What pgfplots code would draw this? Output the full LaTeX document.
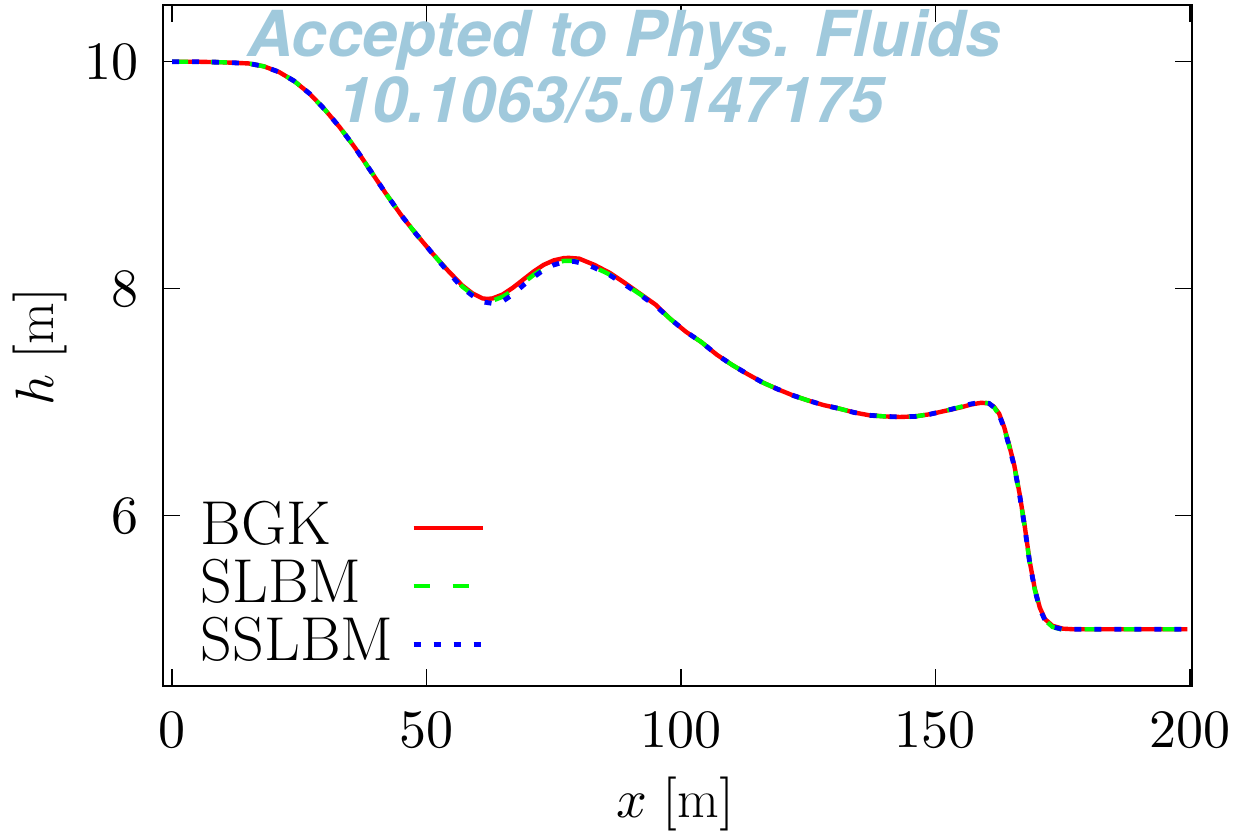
\RequirePackage{fix-cm}
\documentclass[border=0pt]{standalone}
\usepackage{fontspec}
\usepackage{pgfplots}
\usepackage{pgfplotstable}
\pgfplotsset{compat=1.18}
\DeclareFontShape{OT1}{cmr}{m}{n}{<->cmr10}{}
\DeclareFontShape{OML}{cmm}{m}{it}{<->cmmi10}{}
\newfontfamily\wmfont{TeX Gyre Heros}
\definecolor{wmblue}{RGB}{160,201,220}
\definecolor{lgreen}{RGB}{0,255,0}

\pgfplotstableread{
x h
0 10.000
5 10.000
10 9.995
15 9.985
18 9.96
21 9.91
24 9.83
27 9.72
30 9.58
33 9.42
36 9.24
39 9.04
42 8.84
45 8.65
48 8.48
51 8.32
54 8.17
57 8.03
59 7.96
61 7.915
62 7.91
63 7.915
65 7.95
67 8.01
69 8.08
71 8.15
73 8.21
75 8.25
77 8.27
78 8.272
80 8.265
83 8.21
86 8.14
89 8.05
92 7.955
95 7.86
98 7.73
101 7.62
104 7.53
107 7.42
110 7.33
113 7.25
116 7.175
119 7.115
122 7.06
125 7.015
128 6.975
131 6.945
134 6.91
137 6.885
140 6.875
143 6.87
146 6.875
149 6.895
152 6.925
155 6.955
157 6.98
159 6.995
160.5 6.99
161.5 6.96
162.5 6.90
163.5 6.78
164.5 6.62
165.5 6.44
166.5 6.20
167.5 5.92
168.5 5.60
169.5 5.36
170.5 5.19
171.5 5.09
173 5.03
175 5.005
177 5.0
199.5 5.0
}\bgk

\pgfplotstableread{
x h
0 10.000
5 10.000
10 9.995
15 9.985
18 9.96
21 9.91
24 9.83
27 9.72
30 9.58
33 9.42
36 9.24
39 9.04
42 8.84
45 8.65
48 8.48
51 8.32
54 8.165
57 8.02
59 7.95
61 7.90
63 7.895
65 7.93
67 7.985
69 8.05
71 8.12
73 8.18
75 8.225
77 8.245
79 8.245
81 8.225
83 8.19
86 8.125
89 8.04
92 7.95
95 7.855
98 7.73
101 7.62
104 7.53
107 7.42
110 7.33
113 7.25
116 7.175
119 7.115
122 7.06
125 7.015
128 6.975
131 6.945
134 6.91
137 6.885
140 6.875
143 6.87
146 6.875
149 6.895
152 6.925
155 6.96
157 6.985
159 7.0
160.5 6.99
161.5 6.955
162.5 6.89
163.5 6.77
164.5 6.61
165.5 6.43
166.5 6.19
167.5 5.91
168.5 5.59
169.5 5.35
170.5 5.18
171.5 5.08
173 5.02
175 4.995
177 5.0
199.5 5.0
}\slbm

\pgfplotstableread{
x h
0 10.000
5 10.000
10 9.995
15 9.985
18 9.96
21 9.91
24 9.83
27 9.72
30 9.58
33 9.42
36 9.24
39 9.04
42 8.84
45 8.65
48 8.48
51 8.32
54 8.16
57 8.01
59 7.94
61 7.885
63 7.87
65 7.89
67 7.95
69 8.03
71 8.10
73 8.165
75 8.21
77 8.235
79 8.24
81 8.22
83 8.185
86 8.12
89 8.035
92 7.945
95 7.85
98 7.73
101 7.62
104 7.53
107 7.42
110 7.33
113 7.25
116 7.175
119 7.115
122 7.06
125 7.015
128 6.975
131 6.945
134 6.91
137 6.885
140 6.875
143 6.87
146 6.875
149 6.895
152 6.925
155 6.96
157 6.985
159 7.0
160.5 6.99
161.5 6.955
162.5 6.89
163.5 6.77
164.5 6.61
165.5 6.43
166.5 6.19
167.5 5.91
168.5 5.59
169.5 5.35
170.5 5.18
171.5 5.08
173 5.02
175 5.0
177 5.0
199.5 5.0
}\sslbm

\begin{document}
\begin{tikzpicture}
\begin{axis}[
  scale only axis,
  width=514.5pt, height=340.5pt,
  xmin=-1.77, xmax=200.4,
  ymin=4.5, ymax=10.5,
  xtick={0,50,100,150,200},
  ytick={6,8,10},
  minor tick num=0,
  tick align=inside,
  major tick length=8.5pt,
  axis line style={line width=1pt},
  every tick/.style={black, line width=0.7pt},
  tick label style={font=\fontsize{27}{32}\selectfont},
  yticklabel style={xshift=-8.5pt},
  xticklabel style={yshift=-10pt},
  xlabel={$x\;[\mathrm{m}]$},
  ylabel={$h\;[\mathrm{m}]$},
  label style={font=\fontsize{27}{32}\selectfont},
  xlabel style={at={(axis description cs:0.498,-0.173)}, anchor=center},
  ylabel style={at={(axis description cs:-0.1195,0.498)}, anchor=center},
  legend plot pos=right,
  legend cell align=left,
  legend image code/.code={\draw[#1] (0pt,-2.5pt) -- (34.5pt,-2.5pt);},
  legend style={draw=none, fill=none, at={(axis description cs:0.0369,0.2702)}, anchor=north west,
    font=\fontsize{31}{36}\selectfont, inner sep=0pt, outer sep=0pt, row sep=7.8pt, column sep=9pt,
    nodes={inner sep=0pt, text height=21.2pt, text depth=0pt}},
]
\node[font=\wmfont\bfseries\itshape\fontsize{31.7}{36}\selectfont, text=wmblue, anchor=base]
  at (axis description cs:0.448,0.925) {Accepted to Phys. Fluids};
\node[font=\wmfont\bfseries\itshape\fontsize{31.7}{36}\selectfont, text=wmblue, anchor=base]
  at (axis description cs:0.435,0.828) {10.1063/5.0147175};
\addplot[red, line width=2.2pt] table[x=x,y=h] {\bgk};
\addlegendentry{$\mathrm{BGK}$}
\addplot[lgreen, line width=2.2pt, dash pattern=on 8pt off 11.5pt] table[x=x,y=h] {\slbm};
\addlegendentry{$\mathrm{SLBM}$}
\addplot[blue, line width=2.4pt, dash pattern=on 3.5pt off 6.5pt] table[x=x,y=h] {\sslbm};
\addlegendentry{$\mathrm{SSLBM}$}
\end{axis}
\pgfresetboundingbox
\path[use as bounding box] ([xshift=-81.5pt,yshift=-77pt]current axis.south west) rectangle ([xshift=23pt,yshift=2.5pt]current axis.north east);
\end{tikzpicture}
\end{document}
